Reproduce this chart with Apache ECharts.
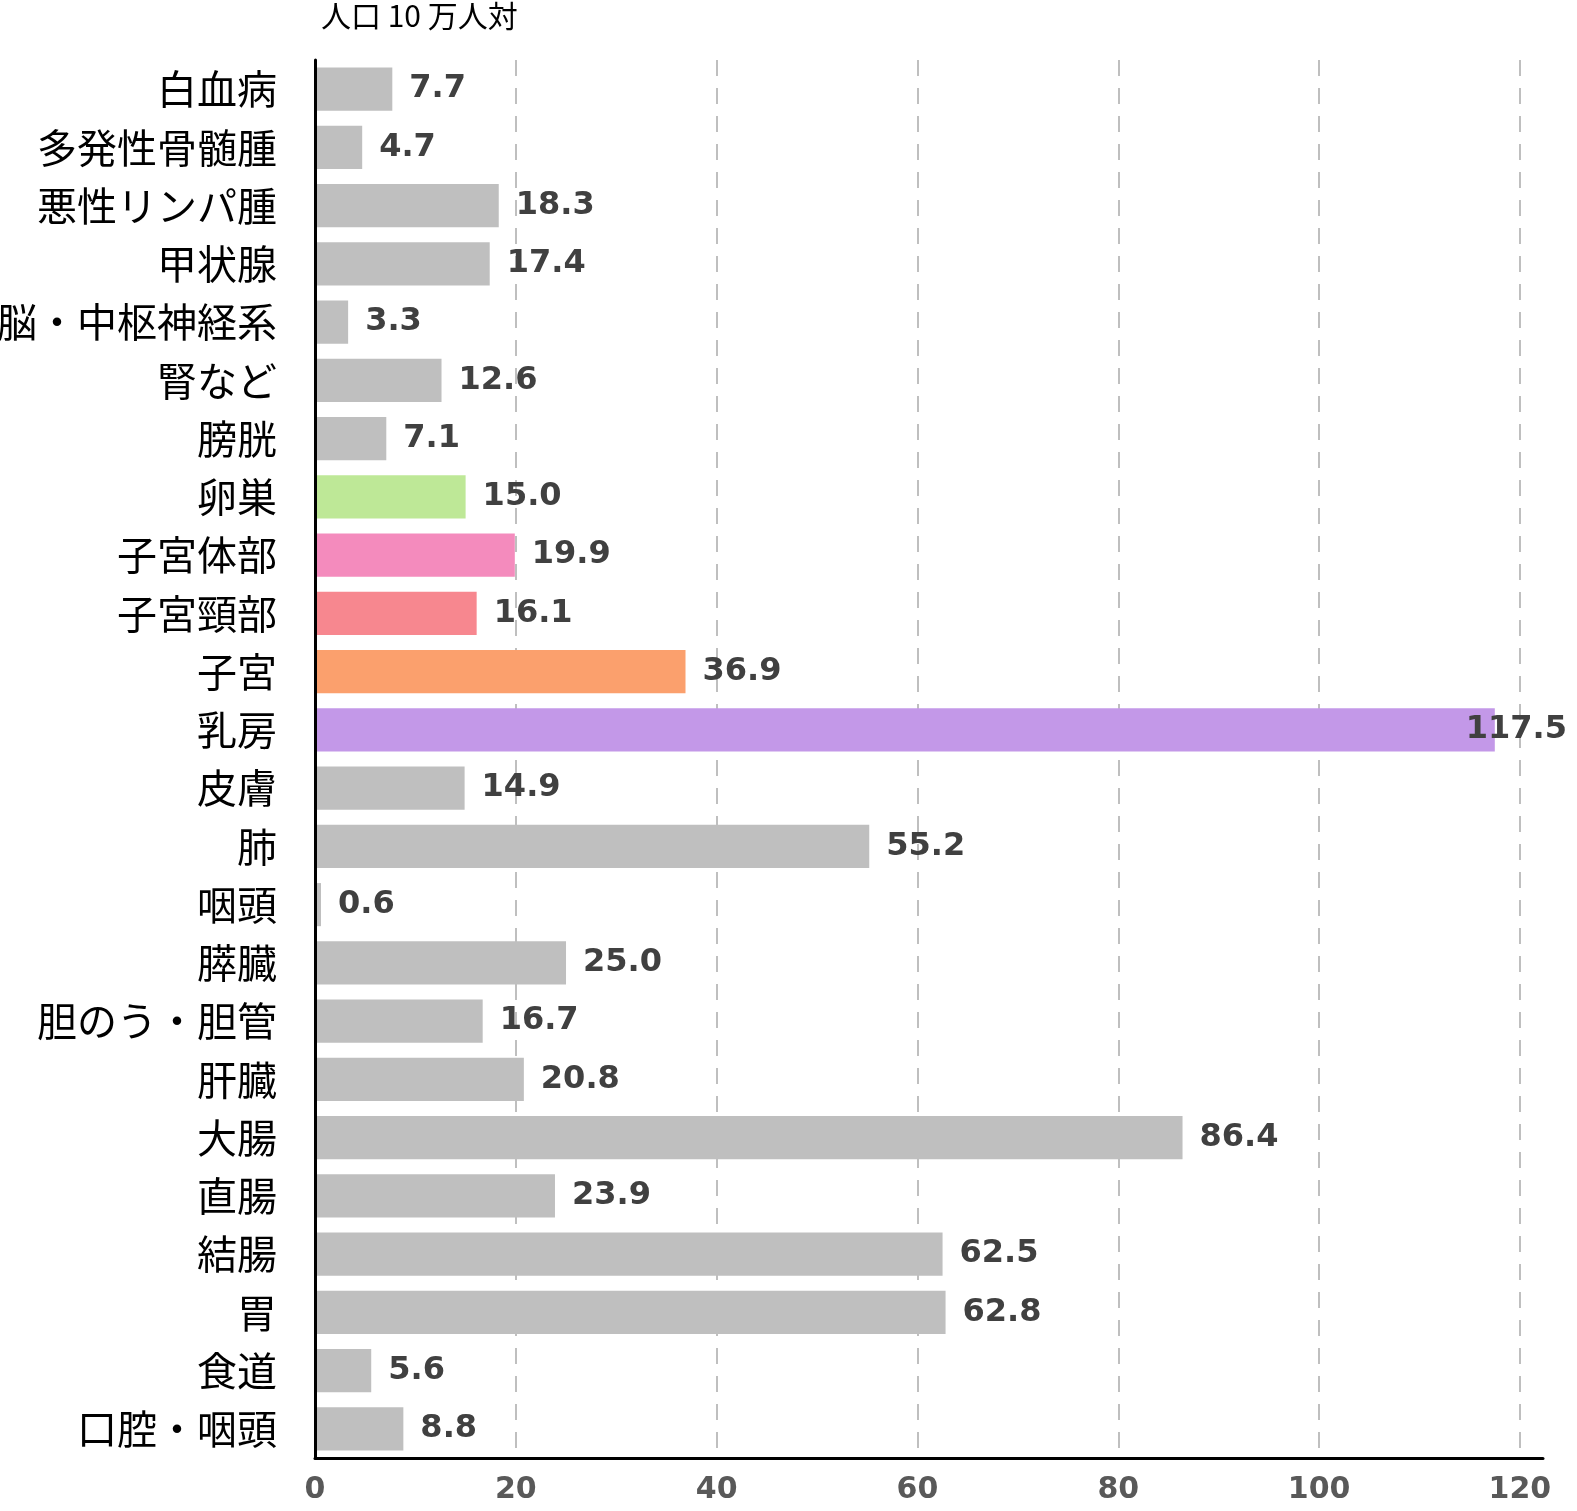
<!DOCTYPE html>
<html>
<head>
<meta charset="utf-8">
<script src="https://cdn.jsdelivr.net/npm/echarts@6/dist/echarts.min.js"></script>
<style>
html,body{margin:0;padding:0;background:#fff;}
#chart{width:1577px;height:1511px;}
</style>
</head>
<body>
<div id="chart"></div>
<script>
// categories listed top to bottom
const categories = ['白血病','多発性骨髄腫','悪性リンパ腫','甲状腺','脳・中枢神経系','腎など','膀胱','卵巣','子宮体部','子宮頸部','子宮','乳房','皮膚','肺','咽頭','膵臓','胆のう・胆管','肝臓','大腸','直腸','結腸','胃','食道','口腔・咽頭'];
const values = [7.7,4.7,18.3,17.4,3.3,12.6,7.1,15.0,19.9,16.1,36.9,117.5,14.9,55.2,0.6,25.0,16.7,20.8,86.4,23.9,62.5,62.8,5.6,8.8];
const highlightColors = {'卵巣':'#BEE897','子宮体部':'#F48BBD','子宮頸部':'#F7878F','子宮':'#FBA06D','乳房':'#C398E8'};
const xTicks = [0,20,40,60,80,100,120];
const axisTitle = '人口 10 万人対';

const chart = echarts.init(document.getElementById('chart'), null, {renderer:'canvas'});
const data = categories.map((c,i)=>{
  const item = {value: values[i], itemStyle:{color: highlightColors[c] || '#BFBFBF'}};
  if (values[i] > 110) item.label = {offset:[-46,0]};
  return item;
});
chart.setOption({
  animation:false,
  backgroundColor:'#fff',
  title:{text:axisTitle,left:316,top:-4,textStyle:{fontFamily:'"Noto Sans CJK JP"',fontSize:30,fontWeight:'normal',color:'#000'}},
  grid:{left:315,top:60,right:34,bottom:53,containLabel:false,outerBoundsMode:'none'},
  xAxis:{type:'value',min:0,max:122.3,interval:20,
    axisLine:{show:true,lineStyle:{color:'#000',width:3}},
    axisTick:{show:false},
    axisLabel:{showMaxLabel:false,margin:17,fontFamily:'"DejaVu Sans"',fontWeight:'bold',fontSize:30,color:'#595959',
      formatter:v=> xTicks.includes(v) ? String(v) : ''},
    splitLine:{show:true,showMinLine:false,showMaxLine:false,lineStyle:{color:'#BFBFBF',width:2,type:[16,12]}}
  },
  yAxis:{type:'category',data:categories,inverse:true,z:5,
    axisLine:{show:true,lineStyle:{color:'#000',width:3}},
    axisTick:{show:false},
    axisLabel:{margin:38,padding:[4,0,0,0],fontFamily:'"Noto Sans CJK JP"',fontSize:40,color:'#000'}
  },
  series:[{type:'bar',data:data,barCategoryGap:'26%',
    label:{show:true,position:'right',distance:17,padding:[5,0,0,0],fontFamily:'"DejaVu Sans"',fontWeight:'bold',fontSize:32,color:'#404040',
      formatter:p=>p.value.toFixed(1)}
  }]
});
</script>
</body>
</html>
